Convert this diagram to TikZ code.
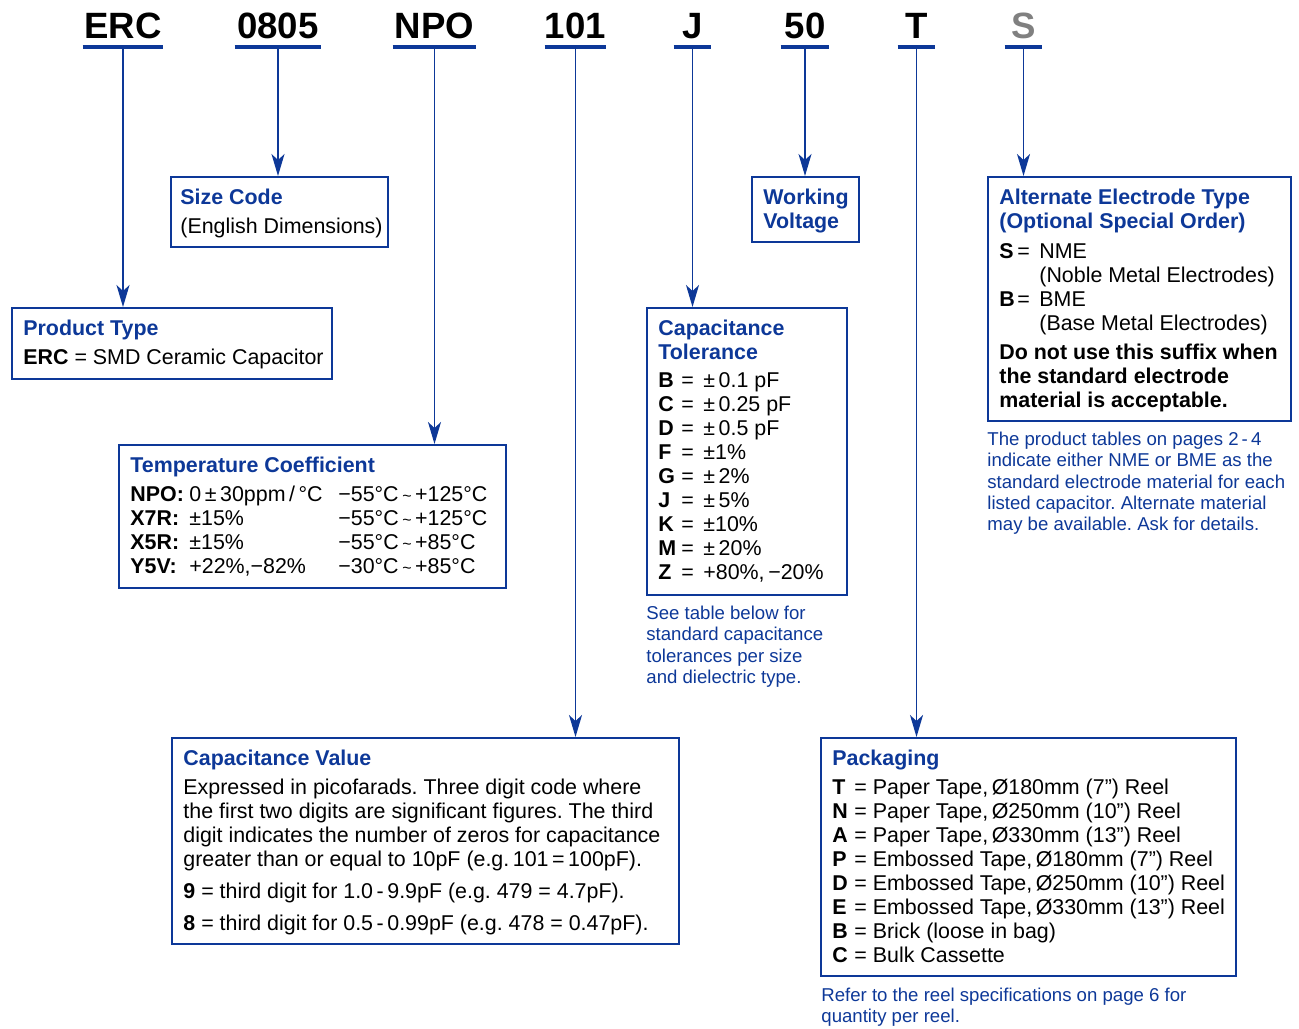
\documentclass[tikz,border=0pt]{standalone}
\usepackage{fontspec}
\setmainfont{Liberation Sans}
\usetikzlibrary{arrows.meta,positioning}

\definecolor{ercblue}{RGB}{13,56,152}
\definecolor{ercgray}{RGB}{128,128,128}

\newcommand{\codekey}[2][11.5pt]{\makebox[#1][l]{\textbf{#2}}}
\newcommand{\hdr}[1]{{\color{ercblue}\bfseries #1}}
\newcommand{\tilsym}{\,{\footnotesize\textasciitilde}\,}
\frenchspacing

\begin{document}
\begin{tikzpicture}[x=0.5pt,y=-0.5pt,
  code/.style={anchor=south, inner xsep=0pt, inner ysep=4pt, text depth=0pt, font=\fontsize{18.3}{20}\selectfont\bfseries},
  codeline/.style={draw=ercblue, line width=2pt},
  lead/.style={draw=ercblue, line width=0.65pt, -{Stealth[length=11pt,width=6.5pt,inset=3pt]}},
  infobox/.style={draw=ercblue, line width=0.8pt, anchor=north west, inner sep=0pt},
  boxtext/.style={anchor=north west, inner sep=0pt, align=left, font=\fontsize{10.7}{12}\selectfont},
  note/.style={anchor=north west, inner sep=0pt, align=left, text=ercblue, font=\fontsize{9.3}{10.65}\selectfont}]

\useasboundingbox (0,0) rectangle (1299,1028);

% part number
\node[code, minimum width=40pt] (cERC) at (123,47) {ERC};
\node[code, minimum width=43pt] (cSize) at (278,47) {0805};
\node[code, minimum width=41.5pt] (cNPO) at (434.5,47) {NPO};
\node[code, minimum width=28.5pt] (cValue) at (575.5,47) {101};
\node[code, minimum width=18.5pt] (cTol) at (692.5,47) {J};
\node[code, minimum width=24pt] (cVolt) at (805,47) {50};
\node[code, minimum width=18.5pt] (cPack) at (916.5,47) {T};
\node[code, minimum width=18.5pt, text=ercgray] (cElec) at (1023.5,47) {S};

\draw[codeline] (cERC.south west) -- (cERC.south east);
\draw[codeline] (cSize.south west) -- (cSize.south east);
\draw[codeline] (cNPO.south west) -- (cNPO.south east);
\draw[codeline] (cValue.south west) -- (cValue.south east);
\draw[codeline] (cTol.south west) -- (cTol.south east);
\draw[codeline] (cVolt.south west) -- (cVolt.south east);
\draw[codeline] (cPack.south west) -- (cPack.south east);
\draw[codeline] (cElec.south west) -- (cElec.south east);

% boxes
\node[infobox, minimum width=160pt, minimum height=35.5pt] (type) at (11,307) {};
\node[infobox, minimum width=108.5pt, minimum height=35pt] (size) at (170,176) {};
\node[infobox, minimum width=193.5pt, minimum height=71.5pt] (tempco) at (118,444) {};
\node[infobox, minimum width=253.5pt, minimum height=103pt] (value) at (171,737) {};
\node[infobox, minimum width=100pt, minimum height=143.5pt] (tol) at (646,307) {};
\node[infobox, minimum width=53.5pt, minimum height=32.5pt] (volt) at (751,176) {};
\node[infobox, minimum width=151.5pt, minimum height=122pt] (elec) at (987,176) {};
\node[infobox, minimum width=207.5pt, minimum height=119pt] (pack) at (820,737) {};

\node[boxtext, below right=6.5pt and 6pt of type.north west] (typeText) {%
\hdr{Product Type}\\[2.5pt]
\textbf{ERC} = SMD Ceramic Capacitor};

\node[boxtext, below right=6.5pt and 5pt of size.north west] (sizeText) {%
\hdr{Size Code}\\[2.5pt]
(English Dimensions)};

\node[boxtext, below right=6.5pt and 6pt of tempco.north west] (tempcoText) {%
\hdr{Temperature Coefficient}\\[2.5pt]
\codekey[29.5pt]{NPO:}\makebox[74.5pt][l]{0\,±\,30ppm\,/\,°C}−55°C\tilsym+125°C\\
\codekey[29.5pt]{X7R:}\makebox[74.5pt][l]{±15\%}−55°C\tilsym+125°C\\
\codekey[29.5pt]{X5R:}\makebox[74.5pt][l]{±15\%}−55°C\tilsym+85°C\\
\codekey[29.5pt]{Y5V:}\makebox[74.5pt][l]{+22\%,−82\%}−30°C\tilsym+85°C};

\node[boxtext, below right=6.5pt and 6pt of value.north west] (valueText) {%
\hdr{Capacitance Value}\\[2.5pt]
Expressed in picofarads. Three digit code where\\
the first two digits are significant figures. The third\\
digit indicates the number of zeros for capacitance\\
greater than or equal to 10pF (e.g.\,101\,=\,100pF).\\[4pt]
\textbf{9} = third digit for 1.0\,-\,9.9pF (e.g. 479 = 4.7pF).\\[4pt]
\textbf{8} = third digit for 0.5\,-\,0.99pF (e.g. 478 = 0.47pF).};

\node[boxtext, below right=6.5pt and 6pt of tol.north west] (tolText) {%
\hdr{Capacitance}\\
\hdr{Tolerance}\\[2pt]
\codekey{B}= \,±\,0.1 pF\\
\codekey{C}= \,±\,0.25 pF\\
\codekey{D}= \,±\,0.5 pF\\
\codekey{F}= \,±1\%\\
\codekey{G}= \,±\,2\%\\
\codekey{J}= \,±\,5\%\\
\codekey{K}= \,±10\%\\
\codekey{M}= \,±\,20\%\\
\codekey{Z}= \,+80\%,\,−20\%};

\node[boxtext, below right=6.5pt and 6pt of volt.north west] (voltText) {%
\hdr{Working}\\
\hdr{Voltage}};

\node[boxtext, below right=6.5pt and 6pt of elec.north west] (elecText) {%
\hdr{Alternate Electrode Type}\\
\hdr{(Optional Special Order)}\\[3pt]
\makebox[20pt][l]{\codekey[9pt]{S}=}NME\\
\hspace*{20pt}(Noble Metal Electrodes)\\
\makebox[20pt][l]{\codekey[9pt]{B}=}BME\\
\hspace*{20pt}(Base Metal Electrodes)\\[2.5pt]
\textbf{Do not use this suffix when}\\
\textbf{the standard electrode}\\
\textbf{material is acceptable.}};

\node[boxtext, below right=6.5pt and 6pt of pack.north west] (packText) {%
\hdr{Packaging}\\[2.5pt]
\codekey[11pt]{T}= Paper Tape,\,Ø180mm (7”) Reel\\
\codekey[11pt]{N}= Paper Tape,\,Ø250mm (10”) Reel\\
\codekey[11pt]{A}= Paper Tape,\,Ø330mm (13”) Reel\\
\codekey[11pt]{P}= Embossed Tape,\,Ø180mm (7”) Reel\\
\codekey[11pt]{D}= Embossed Tape,\,Ø250mm (10”) Reel\\
\codekey[11pt]{E}= Embossed Tape,\,Ø330mm (13”) Reel\\
\codekey[11pt]{B}= Brick (loose in bag)\\
\codekey[11pt]{C}= Bulk Cassette};

% notes
\node[note, below right=5pt and 0pt of tol.south west] (tolNote) {%
See table below for\\
standard capacitance\\
tolerances per size\\
and dielectric type.};

\node[note, below right=5pt and 0pt of elec.south west] (elecNote) {%
The product tables on pages 2\,-\,4\\
indicate either NME or BME as the\\
standard electrode material for each\\
listed capacitor. Alternate material\\
may be available. Ask for details.};

\node[note, below right=5.5pt and 0.5pt of pack.south west] (packNote) {%
Refer to the reel specifications on page 6 for\\
quantity per reel.};

% leads
\draw[lead] (cERC.south) -- (cERC.south |- type.north);
\draw[lead] (cSize.south) -- (cSize.south |- size.north);
\draw[lead] (cNPO.south) -- (cNPO.south |- tempco.north);
\draw[lead] (cValue.south) -- (cValue.south |- value.north);
\draw[lead] (cTol.south) -- (cTol.south |- tol.north);
\draw[lead] (cVolt.south) -- (cVolt.south |- volt.north);
\draw[lead] (cPack.south) -- (cPack.south |- pack.north);
\draw[lead] (cElec.south) -- (cElec.south |- elec.north);

\end{tikzpicture}
\end{document}
